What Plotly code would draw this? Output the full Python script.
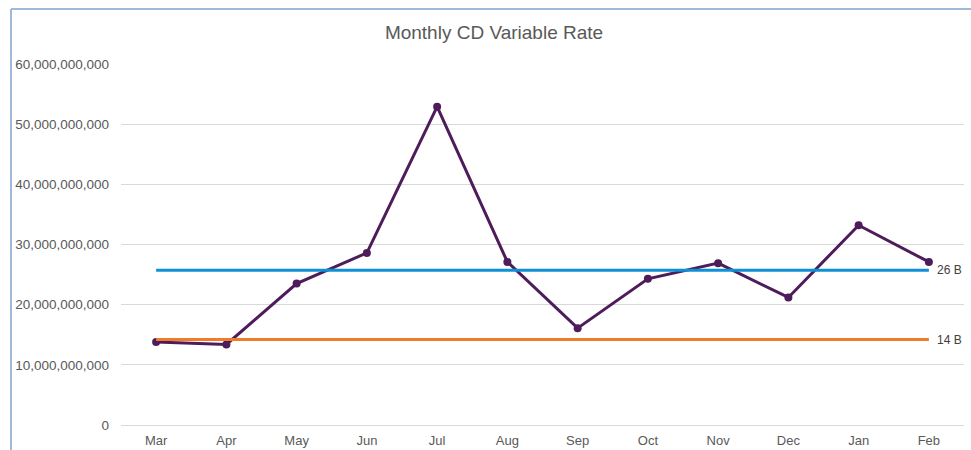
import plotly.graph_objects as go

months = ["Mar", "Apr", "May", "Jun", "Jul", "Aug", "Sep", "Oct", "Nov", "Dec", "Jan", "Feb"]
cd_variable = [13.8e9, 13.4e9, 23.5e9, 28.6e9, 52.9e9, 27.1e9, 16.1e9, 24.3e9, 26.9e9, 21.2e9, 33.2e9, 27.1e9]
upper_level = [25.7e9] * len(months)
lower_level = [14.2e9] * len(months)
upper_label = "26 B"
lower_label = "14 B"
y_ticks = [0, 10e9, 20e9, 30e9, 40e9, 50e9, 60e9]

W, H = 971, 450
L, R, T, B = 121, 7, 64, 25
pw, ph = W - L - R, H - T - B

def px_x(p):
    return (p - L) / pw

def px_y(p):
    return (H - B - p) / ph

fig = go.Figure()
fig.add_trace(go.Scatter(
    x=months, y=cd_variable, mode="lines+markers",
    line=dict(color="#4e1c5a", width=3),
    marker=dict(color="#4e1c5a", size=8),
    showlegend=False, hoverinfo="skip"))
fig.add_trace(go.Scatter(
    x=months, y=upper_level, mode="lines",
    line=dict(color="#0f90d6", width=3),
    showlegend=False, hoverinfo="skip"))
fig.add_trace(go.Scatter(
    x=months, y=lower_level, mode="lines",
    line=dict(color="#f07c28", width=3),
    showlegend=False, hoverinfo="skip"))

for lvl, lab in ((upper_level, upper_label), (lower_level, lower_label)):
    fig.add_annotation(x=months[-1], y=lvl[-1], text=lab, showarrow=False,
                       xanchor="left", xshift=6,
                       font=dict(family="Liberation Sans, Arial", size=12, color="#404040"))

fig.add_shape(type="line", xref="paper", yref="paper",
              x0=px_x(11), x1=px_x(11), y0=px_y(9), y1=px_y(H + 5),
              line=dict(color="#9dbad8", width=2), layer="below")
fig.add_shape(type="line", xref="paper", yref="paper",
              x0=px_x(11), x1=px_x(W + 5), y0=px_y(9), y1=px_y(9),
              line=dict(color="#9dbad8", width=2), layer="below")

fig.update_layout(
    width=W, height=H,
    margin=dict(l=L, r=R, t=T, b=B, autoexpand=False),
    paper_bgcolor="white", plot_bgcolor="white",
    title=dict(text="Monthly CD Variable Rate", x=494 / W, xref="container", xanchor="center",
               y=1 - 32 / H, yref="container", yanchor="middle",
               font=dict(family="Liberation Sans, Arial", size=19, color="#595959")),
    font=dict(family="Liberation Sans, Arial", size=13, color="#595959"),
    xaxis=dict(type="category", range=[-0.5, len(months) - 0.5], showgrid=False,
               showline=False, ticks="", ticklabelstandoff=6,
               tickfont=dict(size=13, color="#595959")),
    yaxis=dict(range=[0, 60e9], tickvals=y_ticks, tickformat=",d",
               showgrid=True, gridcolor="#d9d9d9", gridwidth=1,
               zeroline=True, zerolinecolor="#d9d9d9", zerolinewidth=1,
               showline=False, ticks="", ticklabelstandoff=11,
               tickfont=dict(size=13.5, color="#595959")),
)

fig.write_html("out.html", config={"displayModeBar": False},
               post_script="document.body.style.margin='0';document.body.style.overflow='hidden';")
